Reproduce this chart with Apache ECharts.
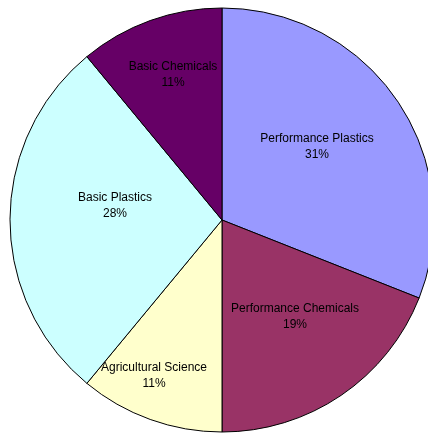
<!DOCTYPE html>
<html>
<head>
<meta charset="utf-8">
<script src="https://cdn.jsdelivr.net/npm/echarts@6/dist/echarts.min.js"></script>
<style>
  html, body { margin: 0; padding: 0; background: #ffffff; }
  #chart { width: 428px; height: 433px; }
</style>
</head>
<body>
<div id="chart"></div>
<script>
// Business segments and their share of the total (percent), clockwise from 12 o'clock
const segments = ['Performance Plastics', 'Performance Chemicals', 'Agricultural Science', 'Basic Plastics', 'Basic Chemicals'];
const shares = [31, 19, 11, 28, 11];

// Fill colour for each segment
const segmentColors = ['#9999FF', '#993366', '#FFFFCC', '#CCFFFF', '#660066'];

// Where each segment's caption sits (pixel centre of the two-line text block)
const captionSpots = [[317, 147], [295, 317], [154, 376], [115, 206], [173, 75]];

const chart = echarts.init(document.getElementById('chart'), null, { renderer: 'canvas' });

chart.setOption({
  backgroundColor: '#ffffff',
  animation: false,
  series: [{
    type: 'pie',
    center: [222, 220],
    radius: 212,
    startAngle: 90,
    clockwise: true,
    avoidLabelOverlap: false,
    data: segments.map((name, i) => ({
      name: name,
      value: shares[i],
      itemStyle: { color: segmentColors[i] }
    })),
    itemStyle: { borderColor: '#000000', borderWidth: 1 },
    emphasis: { disabled: true },
    label: {
      show: true,
      position: 'inside',
      formatter: p => p.name + '\n' + p.value + '%',
      fontFamily: 'Liberation Sans, Arial, sans-serif',
      fontSize: 12,
      lineHeight: 16,
      color: '#000000',
      align: 'center',
      verticalAlign: 'middle'
    },
    labelLine: { show: false },
    labelLayout: params => {
      const spot = captionSpots[params.dataIndex];
      return { x: spot[0], y: spot[1], align: 'center', verticalAlign: 'middle' };
    }
  }]
});
</script>
</body>
</html>
